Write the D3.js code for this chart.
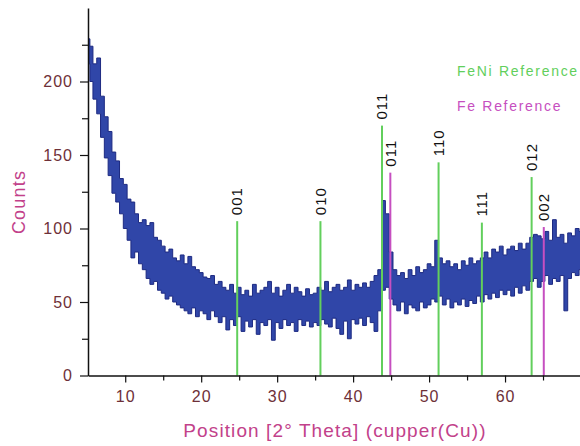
<!DOCTYPE html>
<html>
<head>
<meta charset="utf-8">
<script src="https://cdn.jsdelivr.net/npm/d3@7"></script>
<style>
  body { margin: 0; background: #fff; }
  svg { display: block; }
</style>
</head>
<body>
<div id="chart"></div>
<script>
// scan positions (2 theta) and the upper / lower edge of the noisy trace
const theta = [5.2, 5.5, 6, 6.5, 7, 7.5, 8, 8.5, 9, 9.5, 10, 10.5, 11, 11.5, 12, 12.5, 13, 13.5, 14, 14.5,
  15, 15.5, 16, 16.5, 17, 17.5, 18, 18.5, 19, 19.5, 20, 20.5, 21, 21.5, 22, 22.5, 23, 23.5, 24, 24.5,
  25, 25.5, 26, 26.5, 27, 27.5, 28, 28.5, 29, 29.5, 30, 30.5, 31, 31.5, 32, 32.5, 33, 33.5, 34, 34.5,
  35, 35.5, 36, 36.5, 37, 37.5, 38, 38.5, 39, 39.5, 40, 40.5, 41, 41.5, 42, 42.5, 43, 43.5, 44, 44.5,
  45, 45.5, 46, 46.5, 47, 47.5, 48, 48.5, 49, 49.5, 50, 50.5, 51, 51.5, 52, 52.5, 53, 53.5, 54, 54.5,
  55, 55.5, 56, 56.5, 57, 57.5, 58, 58.5, 59, 59.5, 60, 60.5, 61, 61.5, 62, 62.5, 63, 63.5, 64, 64.5,
  65, 65.5, 66, 66.5, 67, 67.5, 68, 68.5, 69, 69.5, 70];
const countsHigh = [229, 224, 212, 216, 190, 176, 166, 152, 146, 134, 130, 120, 118, 110, 104, 106, 102, 104, 94, 92,
  88, 84, 86, 80, 78, 82, 76, 81, 74, 72, 70, 67, 66, 68, 62, 64, 60, 58, 62, 56,
  60, 55, 58, 54, 62, 56, 58, 60, 64, 56, 60, 54, 58, 62, 56, 60, 57, 54, 59, 55,
  56, 60, 58, 64, 57, 60, 62, 58, 60, 65, 58, 62, 60, 63, 60, 64, 68, 72, 119, 110,
  84, 72, 68, 70, 66, 72, 68, 74, 70, 72, 76, 74, 92, 80, 76, 78, 74, 76, 72, 78,
  75, 80, 76, 78, 80, 84, 80, 86, 84, 88, 82, 86, 88, 85, 90, 86, 90, 94, 96, 95,
  93, 98, 92, 106, 94, 96, 90, 97, 95, 100, 98];
const countsLow = [212, 200, 188, 178, 162, 148, 136, 124, 118, 110, 100, 92, 80, 84, 76, 72, 66, 62, 64, 58,
  56, 52, 54, 50, 48, 46, 44, 42, 46, 40, 44, 42, 38, 44, 40, 36, 40, 31, 38, 34,
  40, 30, 37, 33, 38, 28, 36, 34, 38, 24, 36, 32, 38, 34, 36, 30, 38, 34, 37, 33,
  36, 34, 38, 35, 33, 39, 32, 28, 37, 25, 38, 35, 39, 34, 40, 36, 30, 44, 58, 60,
  52, 48, 44, 50, 42, 48, 46, 44, 50, 46, 48, 52, 50, 54, 48, 52, 46, 50, 48, 52,
  47, 51, 49, 54, 50, 55, 52, 56, 53, 58, 55, 58, 54, 60, 56, 61, 58, 64, 66, 60,
  64, 68, 62, 66, 64, 68, 44, 66, 70, 68, 72];

// reference patterns
const feniPos = [24.74, 35.7, 43.8, 51.25, 56.95, 63.5];
const feniHeight = [105, 105, 170, 145, 104, 135];
const feniLabel = ["001", "010", "011", "110", "111", "012"];
const fePos = [44.9, 65.1];
const feHeight = [138, 101];
const feLabel = ["011", "002"];

const xMajor = [10, 20, 30, 40, 50, 60];
const xMinor = [15, 25, 35, 45, 55, 65];
const yMajor = [0, 50, 100, 150, 200];
const yMinor = [25, 75, 125, 175, 225];

const width = 580, height = 446;
const tickColor = "#6e3038";
const titleColor = "#c2418a";
const green = "#62cf5c";
const magenta = "#c64fc0";

let svg = d3.select("#chart")
    .append("svg")
    .attr("width", width)
    .attr("height", height);

let xScale = d3.scaleLinear().domain([5.1, 70]).range([88, 581]);
let yScale = d3.scaleLinear().domain([0, 250]).range([375.5, 8]);

let scan = theta.map((t, i) => ({ t: t, hi: countsHigh[i], lo: countsLow[i] }));

// trace band
let area = d3.area()
    .curve(d3.curveStep)
    .x(d => xScale(d.t))
    .y0(d => yScale(d.lo))
    .y1(d => yScale(d.hi));

svg.append("path")
    .datum(scan)
    .attr("d", area)
    .style("fill", "#3046a8")
    .style("stroke", "#1d2a82")
    .style("stroke-width", 1);

// reference lines
function refLines(pos, h, labels, color) {
    let g = svg.append("g");
    pos.forEach((p, i) => {
        g.append("line")
            .attr("x1", xScale(p)).attr("x2", xScale(p))
            .attr("y1", yScale(0)).attr("y2", yScale(h[i]))
            .style("stroke", color)
            .style("stroke-width", 2);
        g.append("text")
            .attr("transform", "translate(" + xScale(p) + "," + (yScale(h[i]) - 6) + ") rotate(-90)")
            .attr("dy", "0.35em")
            .style("font-family", "Liberation Sans, Arial, sans-serif")
            .style("font-size", "15px")
            .style("letter-spacing", "1px")
            .style("fill", "#111")
            .text(labels[i]);
    });
}
refLines(feniPos, feniHeight, feniLabel, green);
refLines(fePos, feHeight, feLabel, magenta);

// axes
let xAxis = svg.append("g")
    .attr("transform", "translate(0," + yScale(0) + ")")
    .call(d3.axisBottom(xScale).tickValues(xMajor).tickSize(7).tickPadding(8).tickSizeOuter(0));
svg.append("g")
    .attr("transform", "translate(0," + yScale(0) + ")")
    .call(d3.axisBottom(xScale).tickValues(xMinor).tickSize(5).tickFormat("").tickSizeOuter(0))
    .select(".domain").remove();

let yAxis = svg.append("g")
    .attr("transform", "translate(" + xScale(5.1) + ",0)")
    .call(d3.axisLeft(yScale).tickValues(yMajor).tickSize(8).tickPadding(7).tickSizeOuter(0));
svg.append("g")
    .attr("transform", "translate(" + xScale(5.1) + ",0)")
    .call(d3.axisLeft(yScale).tickValues(yMinor).tickSize(6).tickFormat("").tickSizeOuter(0))
    .select(".domain").remove();

svg.selectAll(".domain").style("stroke", "#111").style("stroke-width", 1.5);
svg.selectAll(".tick line").style("stroke", "#111").style("stroke-width", 1.2);
svg.selectAll(".tick text")
    .style("font-family", "Liberation Sans, Arial, sans-serif")
    .style("font-size", "16px")
    .style("letter-spacing", "1px")
    .style("fill", tickColor);

// titles
svg.append("text")
    .attr("transform", "translate(25,202) rotate(-90)")
    .attr("text-anchor", "middle")
    .style("font-family", "Liberation Sans, Arial, sans-serif")
    .style("font-size", "18px")
    .style("letter-spacing", "1.2px")
    .style("fill", titleColor)
    .text("Counts");

svg.append("text")
    .attr("x", 335)
    .attr("y", 437)
    .attr("text-anchor", "middle")
    .style("font-family", "Liberation Sans, Arial, sans-serif")
    .style("font-size", "19px")
    .style("letter-spacing", "1.1px")
    .style("fill", titleColor)
    .text("Position [2° Theta] (cupper(Cu))");

// legend
svg.append("text")
    .attr("x", 457).attr("y", 76)
    .style("font-family", "Liberation Sans, Arial, sans-serif")
    .style("font-size", "14px")
    .style("letter-spacing", "1.7px")
    .style("fill", green)
    .text("FeNi Reference");
svg.append("text")
    .attr("x", 457).attr("y", 111)
    .style("font-family", "Liberation Sans, Arial, sans-serif")
    .style("font-size", "14px")
    .style("letter-spacing", "1.7px")
    .style("fill", magenta)
    .text("Fe Reference");
</script>
</body>
</html>
